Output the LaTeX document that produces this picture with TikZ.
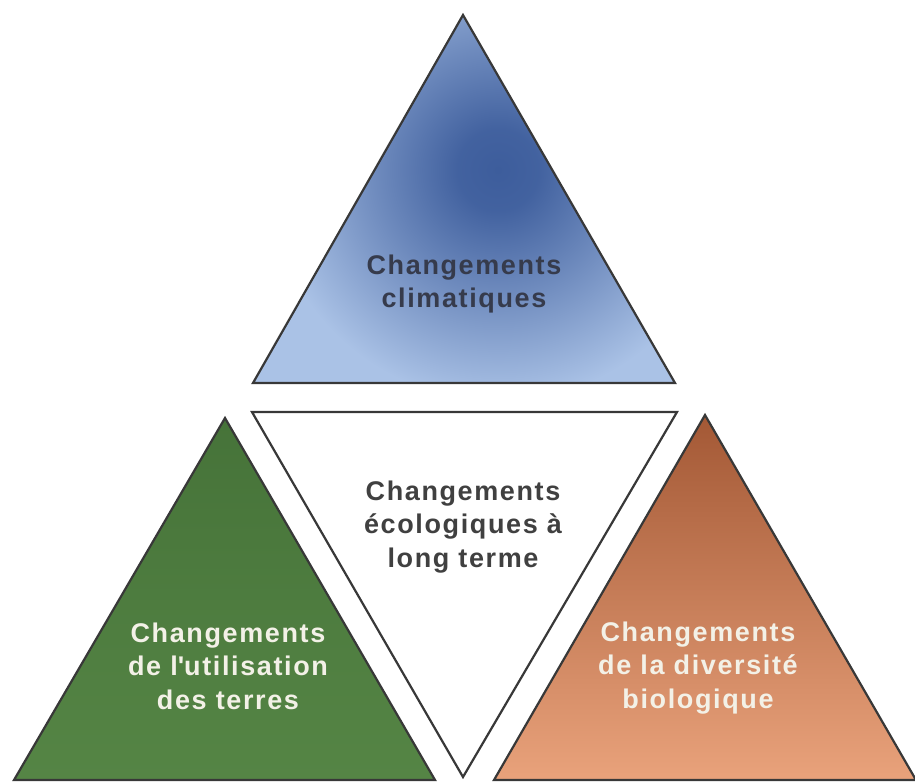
\documentclass[tikz,border=0pt]{standalone}
\usepackage{fontspec}
\setmainfont{Liberation Sans}
\newfontfamily\trifont{Liberation Sans}[LetterSpace=6]

\definecolor{edgegray}{HTML}{383838}
\definecolor{climlight}{HTML}{AAC2E6}
\definecolor{climdark}{HTML}{3D5D9C}
\definecolor{landtop}{HTML}{467339}
\definecolor{landbot}{HTML}{558545}
\definecolor{biotop}{HTML}{A35835}
\definecolor{biobot}{HTML}{E9A27B}
\definecolor{climtext}{HTML}{363B4C}
\definecolor{ecotext}{HTML}{404040}
\definecolor{lighttext}{HTML}{F3F1E7}

\pgfdeclareradialshading{climshade}{\pgfpoint{0bp}{0bp}}{%
  color(0bp)=(climdark); color(3bp)=(climdark!95!climlight);
  color(9bp)=(climdark!55!climlight); color(17bp)=(climlight);
  color(50bp)=(climlight)}

\begin{document}
\begin{tikzpicture}[
  x=1pt, y=-1pt,
  tri/.style={draw=edgegray, line width=2.2pt, line join=miter},
  trilabel/.style={align=center, font=\trifont\bfseries\fontsize{27}{33.5}\selectfont}
]
  \useasboundingbox (0,0) rectangle (915,782);

  % Corners
  \coordinate (clim1) at (463,15);
  \coordinate (clim2) at (253,383);
  \coordinate (clim3) at (675,383);
  \coordinate (eco1) at (252,412);
  \coordinate (eco2) at (677,412);
  \coordinate (eco3) at (463,777);
  \coordinate (land1) at (225,418);
  \coordinate (land2) at (14,780);
  \coordinate (land3) at (435,780);
  \coordinate (bio1) at (705,415);
  \coordinate (bio2) at (494,780);
  \coordinate (bio3) at (916,780);

  % Triangles
  \begin{scope}
    \clip (clim1) -- (clim2) -- (clim3) -- cycle;
    \shade[shading=climshade] (498,170) circle (340);
  \end{scope}
  \draw[tri] (clim1) -- (clim2) -- (clim3) -- cycle;
  \draw[tri, fill=white] (eco1) -- (eco2) -- (eco3) -- cycle;
  \draw[tri, top color=landtop, bottom color=landbot] (land1) -- (land2) -- (land3) -- cycle;
  \draw[tri, top color=biotop, bottom color=biobot] (bio1) -- (bio2) -- (bio3) -- cycle;

  % Labels
  \node[trilabel, text=climtext] (climtxt) at (464,284) {Changements\\climatiques};
  \node[trilabel, text=ecotext] (ecotxt) at (463,527) {Changements\\écologiques à\\long terme};
  \node[trilabel, text=lighttext] (landtxt) at (228,666) {Changements\\de l\textquotesingle utilisation\\des terres};
  \node[trilabel, text=lighttext] (biotxt) at (698,668) {Changements\\de la diversité\\biologique};
\end{tikzpicture}
\end{document}
